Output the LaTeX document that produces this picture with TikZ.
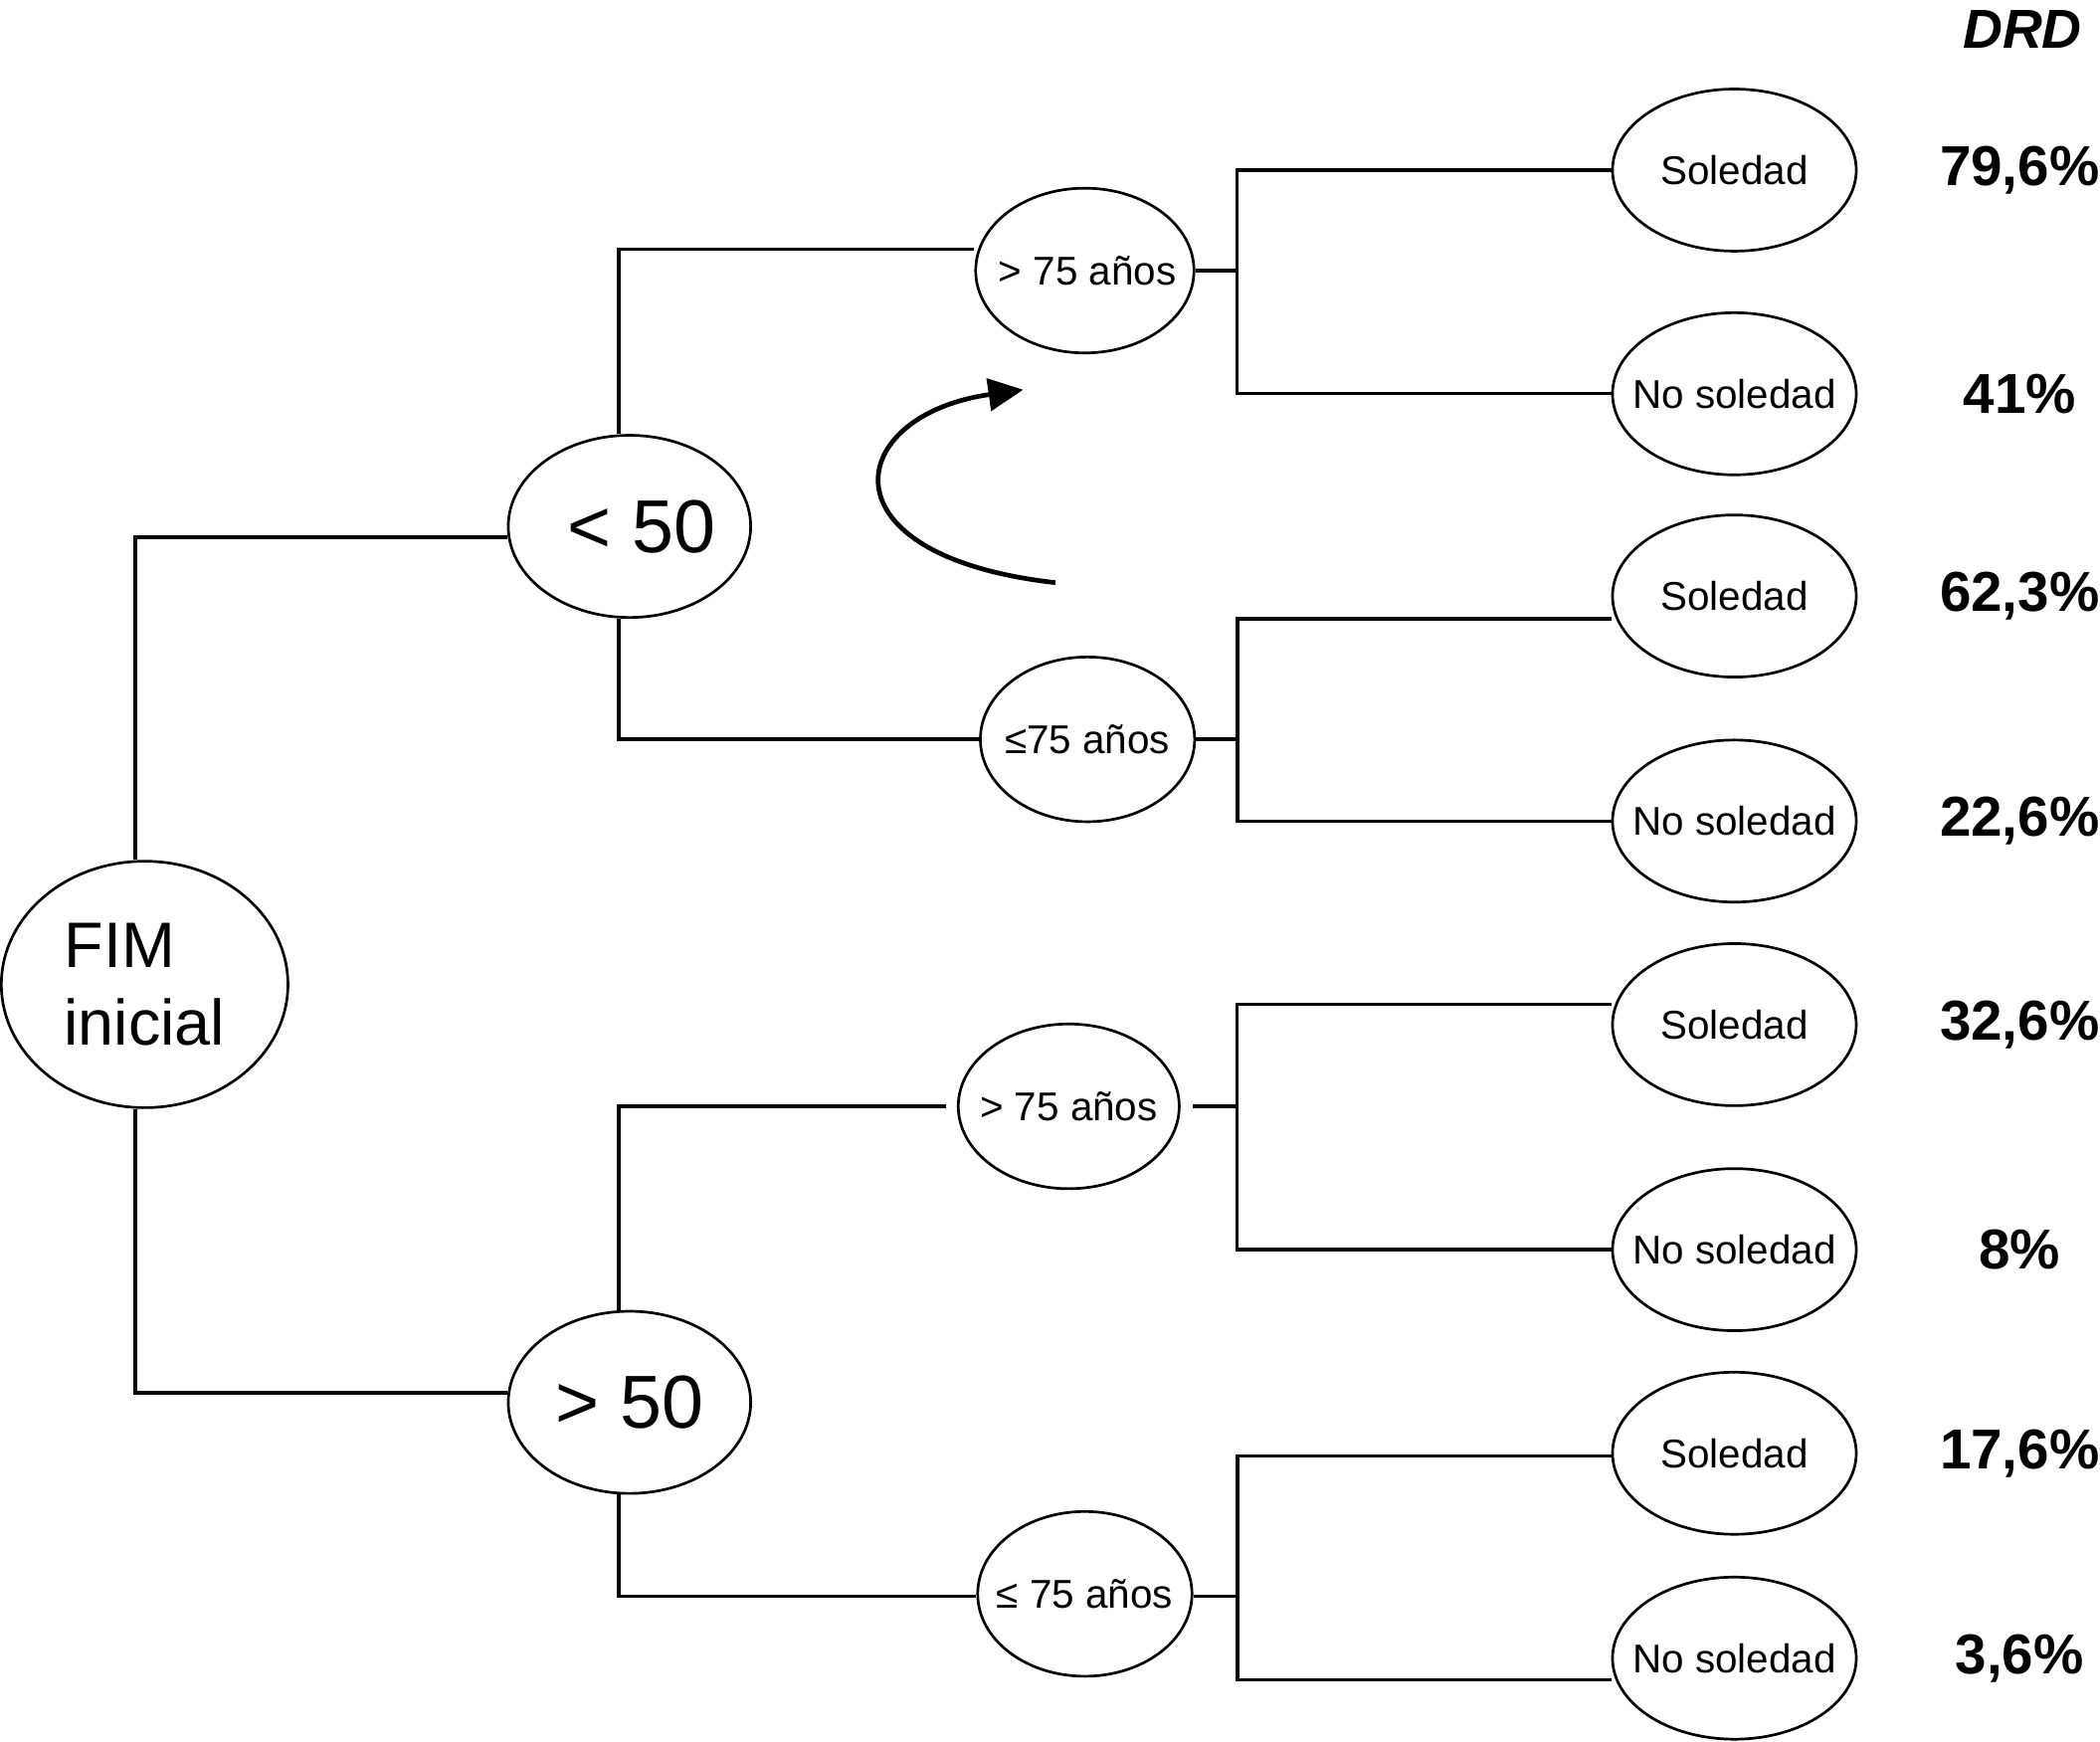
\documentclass[tikz,border=0pt]{standalone}
\usepackage{fontspec}
\setmainfont{Liberation Sans}
\usetikzlibrary{arrows.meta,shapes.geometric}
\newcommand{\zw}[1]{\makebox[0pt]{#1}}
\tikzset{
  ell/.style={draw, ellipse, line width=2pt, inner sep=0pt},
  leaf/.style={ell, minimum width=182pt, minimum height=121pt, font=\fontsize{30}{36}\selectfont},
  mid/.style={ell, minimum width=163pt, minimum height=123pt, font=\fontsize{30}{36}\selectfont},
  big/.style={ell, minimum width=181pt, minimum height=136pt, font=\fontsize{56}{64}\selectfont},
  pct/.style={font=\fontsize{42}{48}\selectfont\bfseries},
  conn/.style={line width=2.5pt},
}
\begin{document}
\begin{tikzpicture}[x=1pt,y=-1pt]
\useasboundingbox (0,0) rectangle (1568,1300);
% nodes
\node[ell, minimum width=214pt, minimum height=184pt, font=\fontsize{48}{58}\selectfont, align=left] (fim) at (108,735) {FIM\\inicial};
\node[big] (lt50) at (470,393) {\zw{\hspace{18pt}< 50}};
\node[big] (gt50) at (470,1047) {\zw{> 50}};
\node[mid] (gt75a) at (810,202) {\zw{\hspace{4pt}> 75 años}};
\node[mid, minimum width=160pt] (le75a) at (812,552) {\zw{≤75 años}};
\node[mid, minimum width=165pt] (gt75b) at (798,826) {\zw{> 75 años}};
\node[mid, minimum width=160pt] (le75b) at (810,1190) {\zw{≤ 75 años}};
\node[leaf] (s1) at (1295,127) {\zw{Soledad}};
\node[leaf] (n1) at (1295,294) {\zw{No soledad}};
\node[leaf] (s2) at (1295,445) {\zw{Soledad}};
\node[leaf] (n2) at (1295,613) {\zw{No soledad}};
\node[leaf] (s3) at (1295,765) {\zw{Soledad}};
\node[leaf] (n3) at (1295,933) {\zw{No soledad}};
\node[leaf] (s4) at (1295,1085) {\zw{Soledad}};
\node[leaf] (n4) at (1295,1238) {\zw{No soledad}};
% percentages
\node[font=\fontsize{41}{48}\selectfont\bfseries\itshape] (drd) at (1510,22) {DRD};
\node[pct] (p1) at (1508,127) {79,6\%};
\node[pct] (p2) at (1508,294) {41\%};
\node[pct] (p3) at (1508,445) {62,3\%};
\node[pct] (p4) at (1508,613) {22,6\%};
\node[pct] (p5) at (1508,765) {32,6\%};
\node[pct] (p6) at (1508,933) {8\%};
\node[pct] (p7) at (1508,1085) {17,6\%};
\node[pct] (p8) at (1508,1238) {3,6\%};
% connectors, left part
\draw[conn] ([xshift=-7pt]fim.north) |- ([yshift=-8pt]lt50.west);
\draw[conn] ([xshift=-7pt]fim.south) |- ([yshift=7pt]gt50.west);
\draw[conn] ([xshift=-8pt]lt50.north) |- ([yshift=16pt]gt75a.west);
\draw[conn] ([xshift=-8pt]lt50.south) |- (le75a.west);
\draw[conn] ([xshift=-8pt]gt50.north) |- ([xshift=-8pt]gt75b.west);
\draw[conn] ([xshift=-8pt]gt50.south) |- ([yshift=-2pt]le75b.west);
% connectors, right part
\draw[conn] (gt75a.east) -- ([xshift=31pt]gt75a.east);
\draw[conn] (s1.west) -| ([xshift=31pt]gt75a.east) |- (n1.west);
\draw[conn] (le75a.east) -- ([xshift=31pt]le75a.east);
\draw[conn] ([yshift=-17pt]s2.west) -| ([xshift=31pt]le75a.east) |- (n2.west);
\draw[conn] ([xshift=9pt]gt75b.east) -- ([xshift=42pt]gt75b.east);
\draw[conn] ([yshift=15pt]s3.west) -| ([xshift=42pt]gt75b.east) |- (n3.west);
\draw[conn] ([yshift=-2pt]le75b.east) -- ([xshift=33pt,yshift=-2pt]le75b.east);
\draw[conn] ([yshift=-2pt]s4.west) -| ([xshift=33pt,yshift=-2pt]le75b.east) |- ([yshift=-16pt]n4.west);
% curved arrow
\coordinate (astart) at (788,435);
\coordinate (aend) at (764,291);
\draw[line width=3.5pt, -{Triangle[length=26pt,width=24pt]}] (astart) .. controls (610,415) and (630,310) .. (aend);
\end{tikzpicture}
\end{document}
